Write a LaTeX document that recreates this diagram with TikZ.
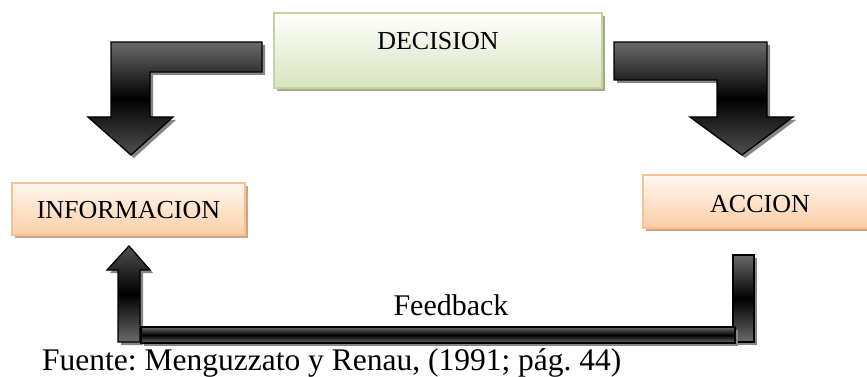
\documentclass[tikz,border=0pt]{standalone}
\usepackage{fontspec}
\setmainfont{Liberation Serif}
\usetikzlibrary{shadows}
\definecolor{grnborder}{HTML}{C3D69B}
\definecolor{grnbottom}{HTML}{D7E4BD}
\definecolor{grnshadow}{HTML}{A3AA8E}
\definecolor{pchborder}{HTML}{FAC08F}
\definecolor{pchtop}{HTML}{FFF8F2}
\definecolor{pchbottom}{HTML}{FBCEA6}
\definecolor{pchshadow}{HTML}{CDA585}
\definecolor{arrlight}{HTML}{6A6A6A}
\definecolor{arrmid}{HTML}{505050}
\definecolor{arrshadow}{HTML}{858585}
\begin{document}
\frenchspacing
\begin{tikzpicture}[x=1pt,y=-1pt,
  boxtext/.style={font=\fontsize{26}{30}\selectfont},
  greenbox/.style={rectangle, draw=grnborder, line width=1.6pt, inner sep=0pt,
    top color=white, bottom color=grnbottom, boxtext,
    general shadow={fill=grnshadow, shadow xshift=3pt, shadow yshift=-3pt}},
  peachbox/.style={rectangle, draw=pchborder, line width=1.6pt, inner sep=0pt,
    top color=pchtop, bottom color=pchbottom, boxtext,
    general shadow={fill=pchshadow, shadow xshift=3pt, shadow yshift=-3pt}},
  blockarrow/.style={draw=black, line width=1.3pt, line join=miter,
    top color=arrlight, bottom color=arrmid, middle color=black,
    general shadow={fill=arrshadow, shadow xshift=3pt, shadow yshift=-3pt}},
  uparrow/.style={draw=black, line width=1.3pt, line join=miter,
    top color=arrmid, bottom color=arrlight, middle color=black,
    general shadow={fill=arrshadow, shadow xshift=3pt, shadow yshift=-3pt}},
  tubebar/.style={draw=black, line width=1.3pt,
    top color=arrlight, bottom color=arrlight, middle color=black,
    general shadow={fill=arrshadow, shadow xshift=3pt, shadow yshift=-3pt}},
  bigtext/.style={inner sep=0pt, font=\fontsize{30}{34}\selectfont}
]
\useasboundingbox (0,0) rectangle (867,377);

% boxes
\node[greenbox, minimum width=328pt, minimum height=75pt,
      text height=18pt, text depth=19pt] (dec) at (438,50.5) {DECISION};
\node[peachbox, minimum width=233pt, minimum height=52pt,
      text height=18pt, text depth=0pt] (info) at (128.5,209) {INFORMACION};
\node[peachbox, minimum width=234pt, minimum height=53pt,
      text height=21pt, text depth=0pt] (acc) at (760,201.5) {ACCION};

% bent arrow: decision -> informacion
\path[blockarrow] (262,42) -- (262,72) -- (150,72) -- (150,117) -- (173,117)
  -- (131,155) -- (88,117) -- (111,117) -- (111,42) -- cycle;

% bent arrow: decision -> accion
\path[blockarrow] (614,42) -- (767,42) -- (767,117) -- (793,117)
  -- (742,155) -- (690,117) -- (717,117) -- (717,80) -- (614,80) -- cycle;

% feedback loop: up arrow into informacion
\path[uparrow]
  (118,342) -- (118,270) -- (107,270) -- (129,246) -- (150,270)
  -- (140,270) -- (140,342) -- cycle;
% right vertical bar under accion
\path[tubebar] (733,255) rectangle (754,342);
% horizontal feedback bar
\path[tubebar] (141,327) rectangle (735,343);

\node[bigtext, anchor=base] (fb) at (451,315) {Feedback};
\node[bigtext, font=\fontsize{31.5}{35}\selectfont, anchor=base west] (src) at (42,370)
  {Fuente: Menguzzato y Renau, (1991; pág. 44)};
\end{tikzpicture}
\end{document}
